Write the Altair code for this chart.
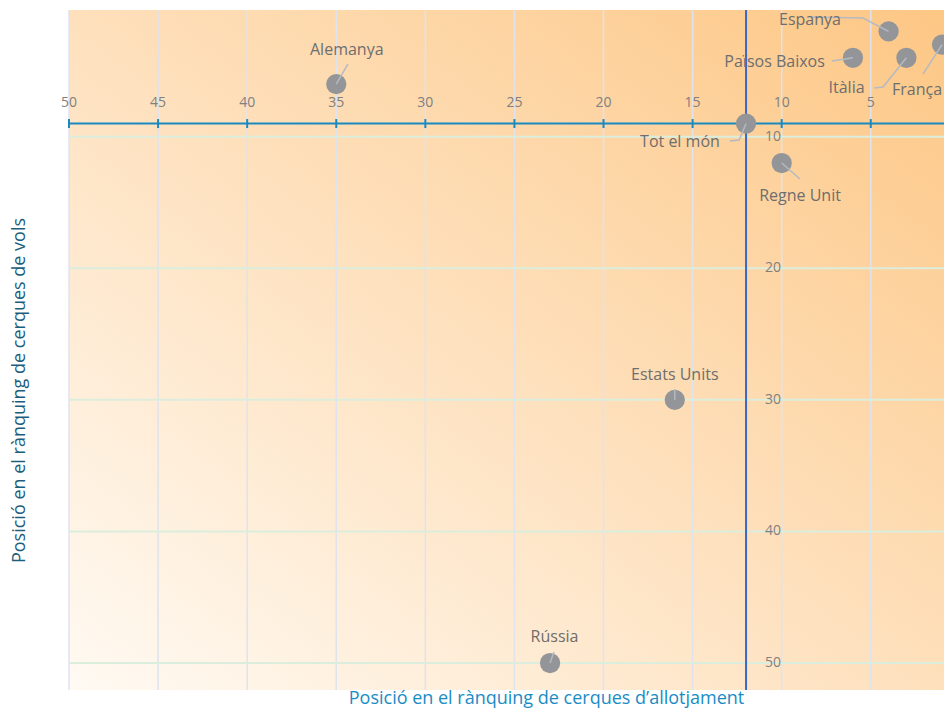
import altair as alt
import pandas as pd

# ---------------- data ----------------
countries = ["Alemanya", "Espanya", "França", "Països Baixos", "Itàlia",
             "Tot el món", "Regne Unit", "Estats Units", "Rússia"]
rank_allotjament = [35, 4, 1, 6, 3, 12, 10, 16, 23]
rank_vols = [6, 2, 3, 4, 4, 9, 12, 30, 50]

# label anchor positions (data units)
label_x = [34.41, 8.41, 2.40, 10.40, 6.36, 15.71, 8.97, 16.00, 22.75]
label_y = [3.41, 1.13, 6.45, 4.30, 6.32, 10.43, 14.48, 28.11, 48.00]

# leader line paths (data units), from label side towards the point
leader_paths = {
    "Alemanya": [(34.35, 4.48)],
    "Espanya": [(8.52, 0.90), (5.44, 0.98)],
    "França": [(2.07, 5.24)],
    "Països Baixos": [(7.18, 4.25)],
    "Itàlia": [(4.81, 6.30), (4.31, 6.22)],
    "Tot el món": [(12.90, 10.33), (12.39, 10.25)],
    "Regne Unit": [(8.97, 13.21)],
    "Estats Units": [(16.00, 29.17)],
    "Rússia": [(22.78, 49.17)],
}

x_ticks = [50, 45, 40, 35, 30, 25, 20, 15, 10, 5]
y_ticks = [10, 20, 30, 40, 50]
world_x = 12
world_y = 9

x_title = "Posició en el rànquing de cerques d’allotjament"
y_title = "Posició en el rànquing de cerques de vols"

# ---------------- tables ----------------
pts = pd.DataFrame({"pais": countries, "x": rank_allotjament, "y": rank_vols,
                    "lx": label_x, "ly": label_y})
rows = []
for c, xv, yv in zip(countries, rank_allotjament, rank_vols):
    path = leader_paths[c] + [(xv, yv)]
    for i, (px, py) in enumerate(path):
        rows.append({"pais": c, "x": px, "y": py, "o": i})
leaders = pd.DataFrame(rows)
xt = pd.DataFrame({"x": x_ticks, "y": [world_y] * len(x_ticks),
                   "t": [str(v) for v in x_ticks]})
yt = pd.DataFrame({"y": y_ticks, "x": [world_x] * len(y_ticks),
                   "t": [str(v) for v in y_ticks]})
one = pd.DataFrame({"a": [0]})
vaxis = pd.DataFrame({"x": [world_x]})
haxis = pd.DataFrame({"y": [world_y]})

FONT = "Open Sans"
xs = alt.Scale(domain=[0.89, 50], reverse=True, nice=False, zero=False)
ys = alt.Scale(domain=[0.37, 52.05], reverse=True, nice=False, zero=False)
x_axis = alt.Axis(
    title=x_title, labels=False, ticks=False, domain=False, grid=False,
    titleFont=FONT, titleFontSize=18, titleFontWeight="normal",
    titleColor="#1a8cc4", titleX=477, titleY=13.5, titleBaseline="alphabetic",
    titleAlign="center")
y_axis = alt.Axis(
    title=y_title, labels=False, ticks=False, domain=False, grid=False,
    titleFont=FONT, titleFontSize=18, titleFontWeight="normal",
    titleColor="#1b5e7c", titleX=-50, titleY=380, titleAngle=-90,
    titleBaseline="middle", titleAlign="center")


def X(f):
    return alt.X(f, scale=xs, axis=x_axis)


def Y(f):
    return alt.Y(f, scale=ys, axis=y_axis)


bg = alt.Chart(one).mark_rect(fill={
    "gradient": "linear", "x1": 0, "y1": 1, "x2": 1, "y2": 0,
    "stops": [{"offset": 0, "color": "#fffaf3"},
              {"offset": 0.5, "color": "#fee0bc"},
              {"offset": 1, "color": "#fdc785"}]}).encode(
    x=alt.value(0), x2=alt.value("width"), y=alt.value(0), y2=alt.value("height"))

vgrid = alt.Chart(pd.DataFrame({"x": x_ticks})).mark_rule(
    color="#dfe3ee", strokeWidth=1.5).encode(x=X("x:Q"))
hgrid = alt.Chart(pd.DataFrame({"y": y_ticks})).mark_rule(
    color="#dbeedd", strokeWidth=2).encode(y=Y("y:Q"))

vline = alt.Chart(vaxis).mark_rule(color="#3a67c4", strokeWidth=2).encode(
    x=X("x:Q"))
hline = alt.Chart(haxis).mark_rule(color="#1a89c0", strokeWidth=2).encode(
    y=Y("y:Q"))

xtick_marks = alt.Chart(xt).mark_rule(color="#1a89c0", strokeWidth=2,
                                      yOffset=-4.5, y2Offset=4.5).encode(
    x=X("x:Q"), y=Y("y:Q"), y2="y")
xtick_labels = alt.Chart(xt).mark_text(dy=-21, font=FONT, fontSize=14,
                                       color="#808080").encode(
    x=X("x:Q"), y=Y("y:Q"), text="t:N")
ytick_labels = alt.Chart(yt).mark_text(dx=35, align="right", font=FONT,
                                       fontSize=14, color="#808080").encode(
    x=X("x:Q"), y=Y("y:Q"), text="t:N")

points = alt.Chart(pts).mark_circle(size=410, color="#939598", opacity=1).encode(
    x=X("x:Q"), y=Y("y:Q"))

lead = alt.Chart(leaders).mark_line(color="#b4bac2", strokeWidth=1.5).encode(
    x=X("x:Q"), y=Y("y:Q"), detail="pais:N", order="o:Q")

labels = alt.Chart(pts).mark_text(font=FONT, fontSize=16, color="#6e6e6e").encode(
    x=X("lx:Q"), y=Y("ly:Q"), text="pais:N")

chart = alt.layer(bg, vgrid, hgrid, vline, hline, xtick_marks, xtick_labels,
                  ytick_labels, points, lead, labels).properties(
    width=875, height=680,
    autosize=alt.AutoSizeParams(type="none"),
    padding={"left": 61, "top": 2, "right": 0, "bottom": 19},
).configure_view(stroke=None)

chart.save("out.html", embed_options={"renderer": "svg", "actions": False})
